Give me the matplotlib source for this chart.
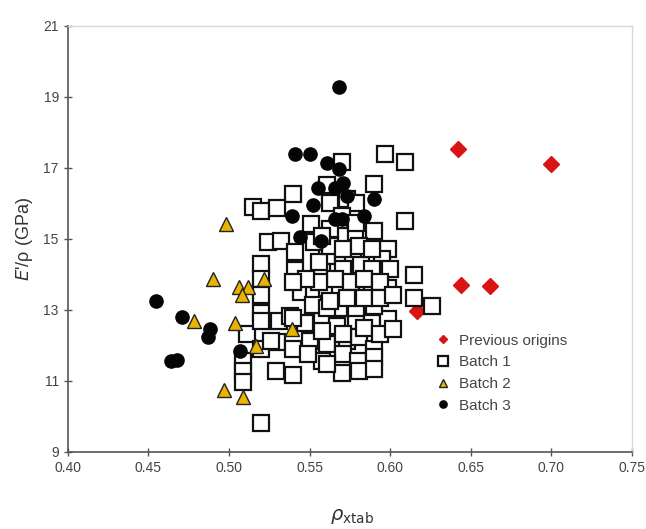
import matplotlib
matplotlib.use("Agg")
import matplotlib.pyplot as plt

plt.rcParams['font.family'] = ['Liberation Sans', 'DejaVu Sans']

# Previous origins (red diamonds)
prev_x = [0.642, 0.700, 0.644, 0.662, 0.617]
prev_y = [17.52, 17.11, 13.70, 13.68, 12.98]

# Batch 1 (open squares)
b1_x = [0.597, 0.609, 0.570, 0.590, 0.540, 0.561, 0.515, 0.520, 0.530, 0.563,
        0.573, 0.579, 0.609, 0.551, 0.578, 0.590, 0.569, 0.524, 0.532, 0.599,
        0.541, 0.577, 0.561, 0.595, 0.520, 0.541, 0.558, 0.571, 0.582, 0.589,
        0.600, 0.615, 0.520, 0.545, 0.553, 0.561, 0.569, 0.579, 0.589, 0.599,
        0.615, 0.520, 0.626, 0.520, 0.531, 0.547, 0.558, 0.567, 0.579, 0.589,
        0.599, 0.538, 0.568, 0.579, 0.590, 0.552, 0.561, 0.511, 0.530, 0.540,
        0.550, 0.561, 0.573, 0.581, 0.590, 0.520, 0.509, 0.509, 0.509, 0.529,
        0.540, 0.558, 0.571, 0.580, 0.590, 0.570, 0.581, 0.590, 0.520, 0.556,
        0.566, 0.576, 0.584, 0.594, 0.556, 0.548, 0.563, 0.573, 0.584, 0.594,
        0.602, 0.558, 0.571, 0.584, 0.594, 0.602, 0.563, 0.571, 0.581, 0.589,
        0.553, 0.570, 0.579, 0.563, 0.558, 0.540, 0.540, 0.549, 0.561, 0.526,
        0.520]
b1_y = [17.39, 17.17, 17.17, 16.55, 16.25, 16.53, 15.89, 15.78, 15.86, 16.02,
        16.11, 16.02, 15.51, 15.41, 15.18, 15.23, 15.09, 14.90, 14.95, 14.72,
        14.63, 14.44, 14.53, 14.44, 14.30, 14.12, 14.07, 14.16, 14.25, 14.16,
        14.16, 13.98, 13.88, 13.51, 13.42, 13.61, 13.51, 13.61, 13.56, 13.61,
        13.33, 13.42, 13.10, 12.91, 12.68, 12.63, 12.68, 12.54, 12.68, 12.63,
        12.73, 12.82, 13.05, 13.05, 13.10, 13.14, 13.05, 12.31, 12.08, 11.89,
        12.12, 12.03, 12.12, 12.22, 11.89, 11.89, 11.57, 11.29, 10.96, 11.29,
        11.15, 11.57, 11.75, 11.57, 11.66, 11.22, 11.29, 11.34, 9.81, 14.35,
        13.88, 13.79, 13.88, 13.79, 13.79, 13.88, 13.24, 13.33, 13.33, 13.33,
        13.42, 12.40, 12.31, 12.49, 12.31, 12.45, 14.81, 14.72, 14.81, 14.72,
        14.90, 15.65, 15.46, 15.27, 15.09, 13.79, 12.77, 11.75, 11.48, 12.12,
        12.68]

# Batch 2 (yellow triangles)
b2_x = [0.498, 0.490, 0.506, 0.512, 0.508, 0.522, 0.478, 0.504, 0.539, 0.517,
        0.497, 0.509]
b2_y = [15.41, 13.87, 13.63, 13.65, 13.42, 13.88, 12.68, 12.63, 12.45, 11.98,
        10.73, 10.55]

# Batch 3 (black circles)
b3_x = [0.568, 0.541, 0.550, 0.561, 0.568, 0.571, 0.555, 0.566, 0.573, 0.590,
        0.552, 0.539, 0.584, 0.570, 0.566, 0.544, 0.557, 0.455, 0.471, 0.488,
        0.487, 0.507, 0.464, 0.468]
b3_y = [19.28, 17.39, 17.39, 17.13, 16.97, 16.57, 16.43, 16.43, 16.20, 16.11,
        15.95, 15.65, 15.65, 15.55, 15.55, 15.06, 14.94, 13.25, 12.79, 12.45,
        12.23, 11.85, 11.55, 11.59]

x_ticks = [0.40, 0.45, 0.50, 0.55, 0.60, 0.65, 0.70, 0.75]
y_ticks = [9, 11, 13, 15, 17, 19, 21]

fig = plt.figure(figsize=(6.46, 5.29), dpi=100)
ax = fig.add_axes([0.105, 0.146, 0.873, 0.805])

ax.plot(prev_x, prev_y, 'D', color='#d81414', ms=8, mec='#d81414',
        label='Previous origins', zorder=2)
ax.plot(b1_x, b1_y, 's', mfc='white', mec='#111111', ms=12, mew=1.6,
        label='Batch 1', zorder=3)
ax.plot(b2_x, b2_y, '^', mfc='#e8b400', mec='#222222', ms=10, mew=1.0,
        label='Batch 2', zorder=4)
ax.plot(b3_x, b3_y, 'o', color='#050505', ms=9.5, label='Batch 3', zorder=5)

ax.set_xlim(0.40, 0.75)
ax.set_ylim(9, 21)
ax.set_xticks(x_ticks)
ax.set_xticklabels([f'{v:.2f}' for v in x_ticks])
ax.set_yticks(y_ticks)
ax.tick_params(direction='inout', length=6, width=1, colors='#555555',
               labelsize=10, labelcolor='#444444')

for side in ['left', 'bottom']:
    ax.spines[side].set_color('#555555')
    ax.spines[side].set_linewidth(1.2)
for side in ['top', 'right']:
    ax.spines[side].set_color('#d8d8d8')
    ax.spines[side].set_linewidth(1.0)

ax.set_ylabel("$E$'/\u03c1 (GPa)", fontsize=13, color='#333333', labelpad=6)
fig.text(0.545, 0.006, r'$\rho_{\mathrm{xtab}}$', fontsize=14, ha='center',
         va='bottom', color='#333333')

ax.legend(loc='upper left', bbox_to_anchor=(428 / 646, 1 - 326 / 529),
          bbox_transform=fig.transFigure, frameon=False, fontsize=11,
          markerscale=0.55, handlelength=1.0, handletextpad=0.5,
          labelspacing=0.5, borderpad=0, labelcolor='#444444')

fig.savefig('out.png', dpi=100)
